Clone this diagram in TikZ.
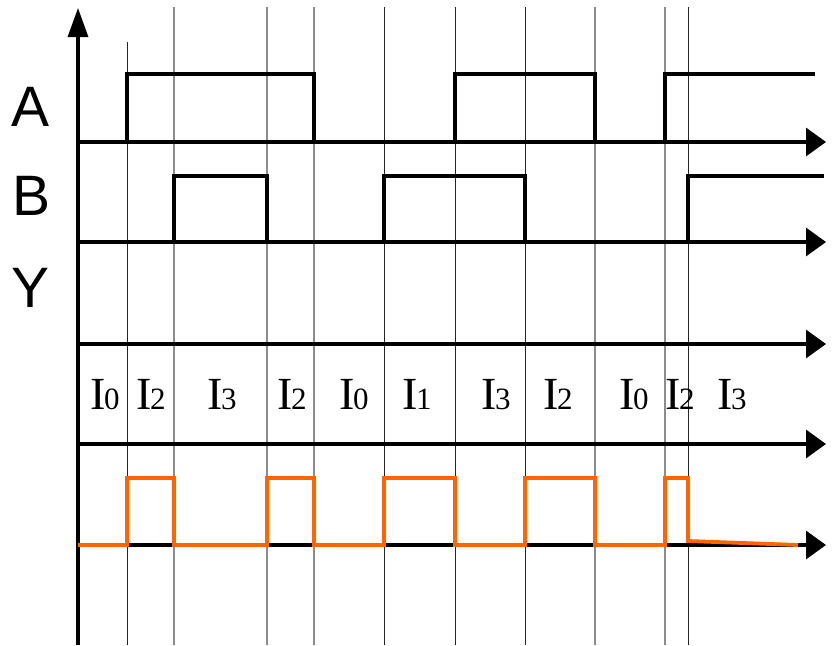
\documentclass[tikz,border=0pt]{standalone}
\usepackage{fontspec}
\setmainfont{Liberation Serif}
\setsansfont{Liberation Sans}
\usetikzlibrary{arrows.meta}
\definecolor{wave}{RGB}{255,102,0}
\newcommand\minterm[1]{{\fontsize{46}{46}\selectfont I}\kern-1.5pt{\fontsize{31}{31}\selectfont #1}}

\begin{document}
\begin{tikzpicture}[x=1pt,y=-1pt,
  axis/.style={line width=3.3pt,-{Triangle[length=20pt,width=28pt]}},
  sig/.style={line width=3.2pt},
  outsig/.style={line width=3.8pt,draw=wave},
  tickdark/.style={line width=1pt,draw=black!85},
  tickgray/.style={line width=1.2pt,draw=black!45},
  signame/.style={font=\sffamily\fontsize{57}{57}\selectfont,anchor=base,inner sep=0pt},
  term/.style={anchor=base,inner sep=0pt}
]
  \useasboundingbox (0,0) rectangle (834,645);

  % time marks
  \draw[tickdark] (127,42) -- (127,645);
  \foreach \x in {384,455,525,688}
    \draw[tickdark] (\x,7) -- (\x,645);
  \foreach \x in {174,267,314,595,665}
    \draw[tickgray] (\x,7) -- (\x,645);

  % axes
  \draw[line width=3.3pt,-{Triangle[length=29pt,width=20pt]}] (78,645) -- (78,8);
  \foreach \y in {142,242,344,444,545}
    \draw[axis] (78,\y) -- (826,\y);

  % signal names
  \node[signame] (nameA) at (31,126) {A};
  \node[signame] (nameB) at (32,215) {B};
  \node[signame] (nameY) at (31,307) {Y};

  % inputs
  \draw[sig] (127,142) -- (127,74) -- (314,74) -- (314,142);
  \draw[sig] (455,142) -- (455,74) -- (595,74) -- (595,142);
  \draw[sig] (665,142) -- (665,74) -- (815,74);
  \draw[sig] (174,242) -- (174,176) -- (267,176) -- (267,242);
  \draw[sig] (384,242) -- (384,176) -- (525,176) -- (525,242);
  \draw[sig] (688,242) -- (688,176) -- (824,176);

  % minterms
  \foreach \x/\k in {105/0,151/2,222/3,292/2,354/0,417/1,496/3,558/2,634/0,680/2,732/3}
    \node[term] (I-\x) at (\x,409) {\minterm{\k}};

  % output
  \draw[outsig] (78,545) -- (127,545) -- (127,478) -- (174,478) -- (174,545)
    -- (267,545) -- (267,478) -- (314,478) -- (314,545) -- (384,545)
    -- (384,478) -- (455,478) -- (455,545) -- (525,545) -- (525,478)
    -- (595,478) -- (595,545) -- (665,545) -- (665,478) -- (688,478)
    -- (688,541) -- (798,545);
\end{tikzpicture}
\end{document}
